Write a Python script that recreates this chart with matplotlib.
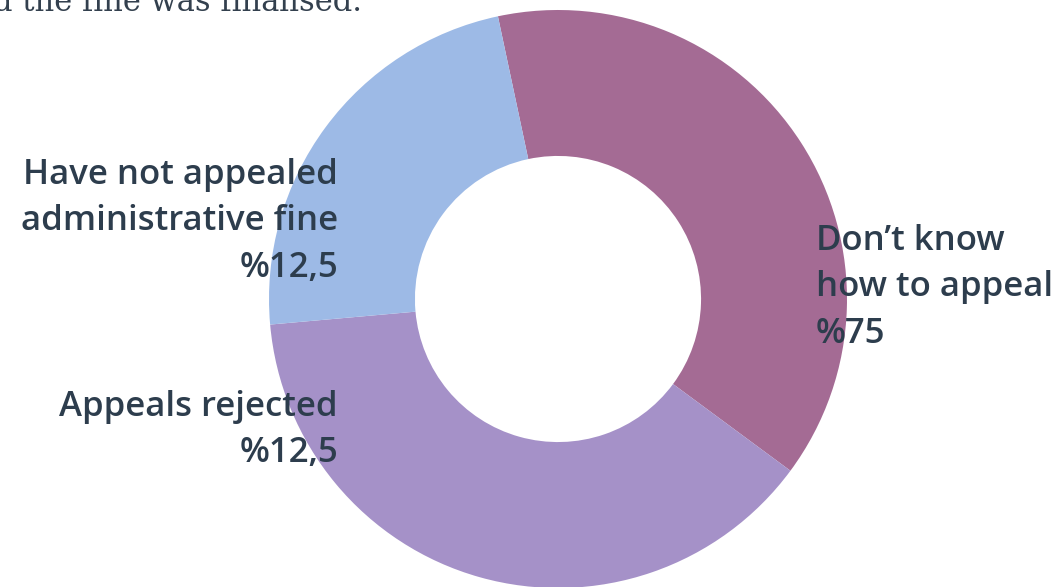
import matplotlib
matplotlib.use("Agg")
import matplotlib.pyplot as plt

# slice sizes as drawn, and the label texts printed beside them
counts = [5, 5, 3]
colors = ["#A46B94", "#A591C8", "#9DBAE6"]
label_lines = [
    ["Don\u2019t know", "how to appeal", "%75"],
    ["Appeals rejected", "%12,5"],
    ["Have not appealed", "administrative fine", "%12,5"],
]
caption = "d the fine was finalised."

W, H = 1062, 587
CX, CY, R = 558, 299, 289  # donut centre / radius in pixels

fig = plt.figure(figsize=(W / 100, H / 100), dpi=100)
ax = fig.add_axes([0, 0, 1, 1])
ax.pie(counts, colors=colors, startangle=102, counterclock=False,
       radius=1.0, wedgeprops=dict(width=0.505, edgecolor="none"))
ax.set_xlim(-CX / R, (W - CX) / R)
ax.set_ylim((CY - H) / R, CY / R)
ax.set_aspect("equal")
ax.axis("off")

text_color = "#2D3D4D"
font = dict(family=["Open Sans", "DejaVu Sans"], fontsize=25, weight="semibold", color=text_color)

# (x, first baseline, alignment) in pixels for each label block
label_pos = [(816, 250, "left"), (338, 416, "right"), (338, 184, "right")]
line_step = 46.5
for lines, (x, y0, ha) in zip(label_lines, label_pos):
    for i, line in enumerate(lines):
        fig.text(x / W, 1 - (y0 + i * line_step) / H, line, ha=ha, va="baseline", **font)

fig.text(362 / W, 1 - 11 / H, caption, ha="right", va="baseline",
         family="DejaVu Serif", fontsize=22, color="#33404E")

fig.savefig("out.png", dpi=100)
